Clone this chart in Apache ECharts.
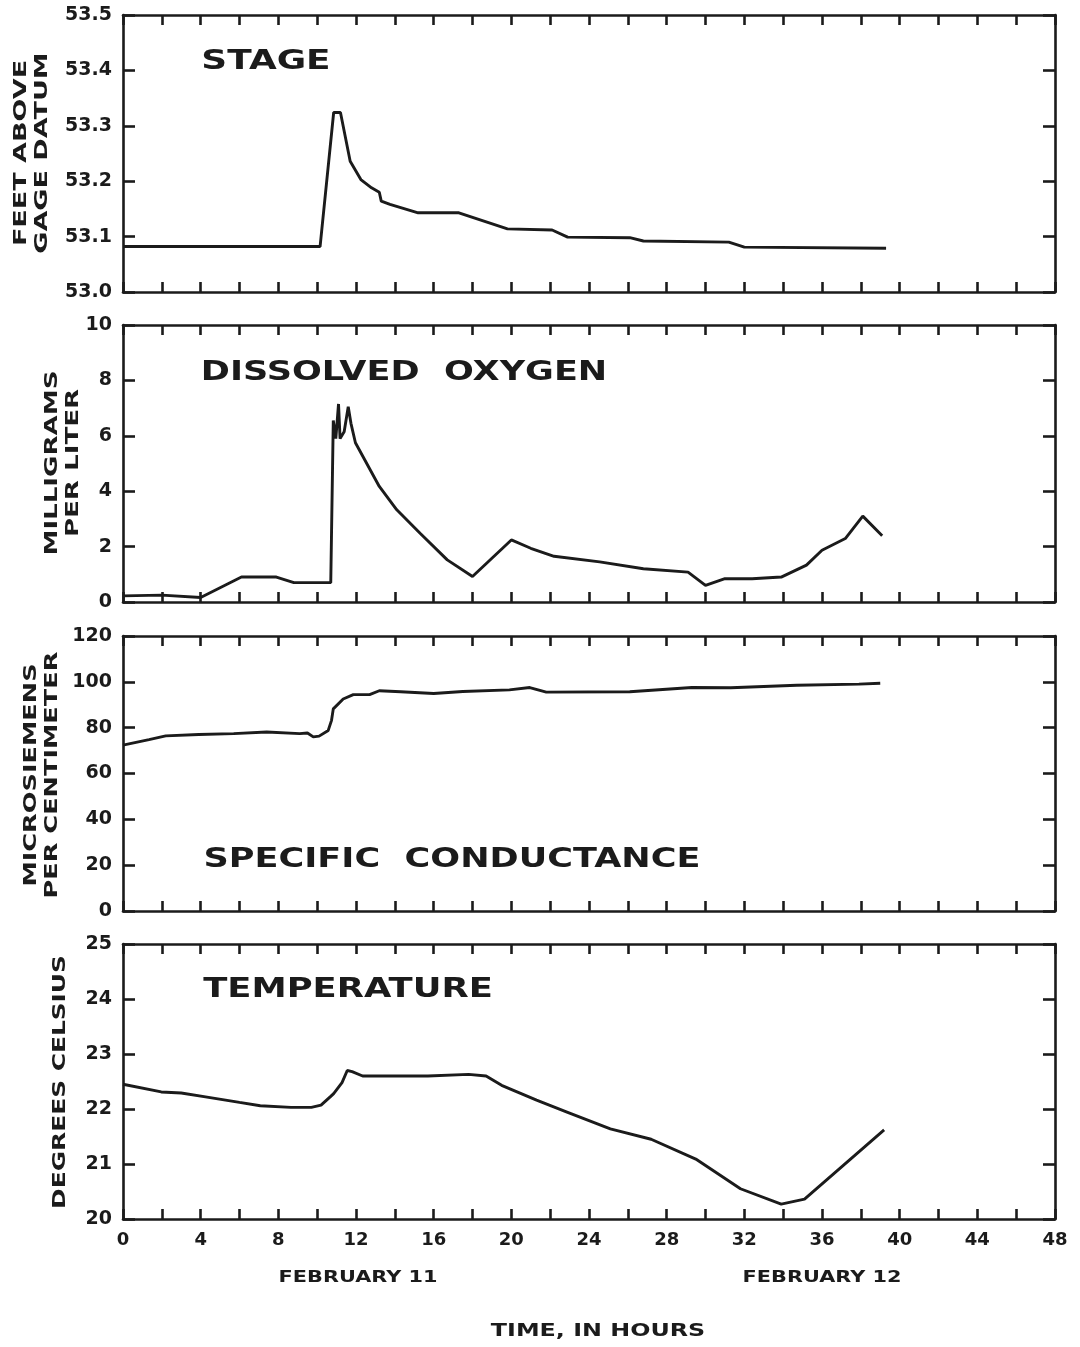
<!DOCTYPE html>
<html>
<head>
<meta charset="utf-8">
<title>Stage, dissolved oxygen, specific conductance and temperature</title>
<script src="https://cdn.jsdelivr.net/npm/echarts@6/dist/echarts.min.js"></script>
<style>
  html, body { margin: 0; padding: 0; background: #fff; }
  #chart { width: 1080px; height: 1347px; }
</style>
</head>
<body>
<div id="chart"></div>
<script>
// hours since start of record
const stageHours = [0, 10.15, 10.85, 11.2, 11.7, 12.25, 12.8, 13.2, 13.3, 13.75, 15.2, 17.3, 19.8, 22.1, 22.9, 26.1, 26.8, 31.2, 32.0, 39.3];
const stageFeet = [53.082, 53.082, 53.324, 53.324, 53.236, 53.203, 53.188, 53.18, 53.164, 53.158, 53.143, 53.143, 53.114, 53.112, 53.099, 53.098, 53.092, 53.09, 53.081, 53.079];

const oxygenHours = [0, 2, 4, 6.1, 7.9, 8.8, 10.7, 10.83, 10.96, 11.1, 11.18, 11.39, 11.48, 11.6, 11.74, 11.97, 13.2, 14.1, 15.3, 16.7, 18.0, 20.0, 21.0, 22.2, 24.55, 26.8, 29.1, 30.0, 31.0, 32.4, 33.9, 35.2, 36.0, 37.2, 38.1, 39.1];
const oxygenMg = [0.22, 0.25, 0.16, 0.9, 0.9, 0.7, 0.7, 6.55, 5.9, 7.15, 5.9, 6.15, 6.1, 7.05, 6.45, 5.75, 4.17, 3.33, 2.48, 1.52, 0.92, 2.24, 1.94, 1.65, 1.45, 1.2, 1.08, 0.6, 0.84, 0.84, 0.9, 1.33, 1.87, 2.29, 3.1, 2.39];

const condHours = [0, 1.34, 2.2, 3.9, 5.7, 7.4, 9.1, 9.5, 9.8, 10.1, 10.57, 10.74, 10.83, 11.34, 11.86, 12.7, 13.2, 14.3, 16.0, 17.5, 19.9, 20.95, 21.8, 26.1, 29.3, 31.3, 34.7, 37.9, 39.0];
const condUs = [72.4, 74.8, 76.4, 77, 77.4, 78.1, 77.4, 77.7, 76, 76.3, 78.8, 83.2, 88.2, 92.5, 94.4, 94.4, 96.1, 95.7, 94.9, 95.8, 96.5, 97.5, 95.5, 95.7, 97.5, 97.4, 98.5, 99, 99.4];

const tempHours = [0, 1.97, 3.0, 4.25, 6.0, 7.07, 8.65, 9.7, 10.2, 10.67, 10.85, 11.28, 11.55, 11.8, 12.34, 15.7, 17.8, 18.7, 19.5, 21.3, 22.9, 25.1, 27.2, 29.5, 31.8, 33.9, 35.1, 39.2];
const tempC = [22.45, 22.31, 22.29, 22.22, 22.12, 22.06, 22.03, 22.03, 22.07, 22.22, 22.28, 22.48, 22.7, 22.68, 22.6, 22.6, 22.63, 22.6, 22.43, 22.16, 21.94, 21.64, 21.45, 21.09, 20.55, 20.27, 20.36, 21.62];

const panelTitles = ["STAGE", "DISSOLVED  OXYGEN", "SPECIFIC  CONDUCTANCE", "TEMPERATURE"];
const yRanges = [[53.0, 53.5, 0.1], [0, 10, 2], [0, 120, 20], [20, 25, 1]];

const ink = "#1b1b1b";
const font = '"DejaVu Sans", sans-serif';

function zip(xs, ys) {
    return xs.map((x, i) => [x, ys[i]]);
}

const panels = [
    { top: 15, height: 277, data: zip(stageHours, stageFeet), digits: 1 },
    { top: 325, height: 277, data: zip(oxygenHours, oxygenMg), digits: 0 },
    { top: 636, height: 275, data: zip(condHours, condUs), digits: 0 },
    { top: 944, height: 275, data: zip(tempHours, tempC), digits: 0 }
];

const line = { color: ink, width: 2.6 };
const grid = [], xAxis = [], yAxis = [], series = [];

panels.forEach((p, i) => {
    grid.push({ left: 123, right: 25, top: p.top, height: p.height });
    ["bottom", "top"].forEach((pos) => {
        xAxis.push({
            gridIndex: i,
            type: "value",
            position: pos,
            min: 0,
            max: 48,
            interval: 2,
            axisLine: { show: true, onZero: false, lineStyle: line },
            axisTick: { show: true, inside: true, length: 10, lineStyle: line },
            splitLine: { show: false },
            axisLabel: {
                show: i === 3 && pos === "bottom",
                margin: 12,
                color: ink,
                fontFamily: font,
                fontWeight: "bold",
                fontSize: 18,
                formatter: (v) => (v % 4 === 0 ? String(v) : "")
            }
        });
    });
    const r = yRanges[i];
    ["left", "right"].forEach((pos) => {
        yAxis.push({
            gridIndex: i,
            type: "value",
            position: pos,
            min: r[0],
            max: r[1],
            interval: r[2],
            axisLine: { show: true, onZero: false, lineStyle: line },
            axisTick: { show: true, inside: true, length: 12, lineStyle: line },
            splitLine: { show: false },
            axisLabel: {
                show: pos === "left",
                margin: 11,
                color: ink,
                fontFamily: font,
                fontWeight: "bold",
                fontSize: 19,
                formatter: (v) => v.toFixed(p.digits)
            }
        });
    });
    series.push({
        type: "line",
        xAxisIndex: i * 2,
        yAxisIndex: i * 2,
        data: p.data,
        showSymbol: false,
        symbol: "none",
        lineStyle: { color: ink, width: 2.9 },
        animation: false
    });
});

function label(text, x, y, size, sx, rot) {
    return {
        type: "text",
        x: x,
        y: y,
        rotation: rot || 0,
        scaleX: sx,
        style: {
            text: text,
            font: "bold " + size + "px " + font,
            fill: ink,
            align: "center",
            verticalAlign: "middle"
        }
    };
}

const up = Math.PI / 2;
const graphic = [
    label(panelTitles[0], 266, 62, 26, 1.38),
    label(panelTitles[1], 404, 373, 26, 1.35),
    label(panelTitles[2], 452, 860, 26, 1.35),
    label(panelTitles[3], 348, 990, 26, 1.36),
    label("FEET ABOVE", 21, 153, 18, 1.5, up),
    label("GAGE DATUM", 42, 153, 18, 1.5, up),
    label("MILLIGRAMS", 52, 463, 18, 1.45, up),
    label("PER LITER", 73, 463, 18, 1.45, up),
    label("MICROSIEMENS", 31, 775, 18, 1.42, up),
    label("PER CENTIMETER", 52, 775, 18, 1.42, up),
    label("DEGREES CELSIUS", 60, 1082, 18, 1.38, up),
    label("FEBRUARY 11", 358, 1278, 16, 1.3),
    label("FEBRUARY 12", 822, 1278, 16, 1.3),
    label("TIME, IN HOURS", 598, 1332, 17, 1.4)
];

const chart = echarts.init(document.getElementById("chart"));
chart.setOption({
    backgroundColor: "#fff",
    animation: false,
    grid: grid,
    xAxis: xAxis,
    yAxis: yAxis,
    series: series,
    graphic: graphic
});
</script>
</body>
</html>
